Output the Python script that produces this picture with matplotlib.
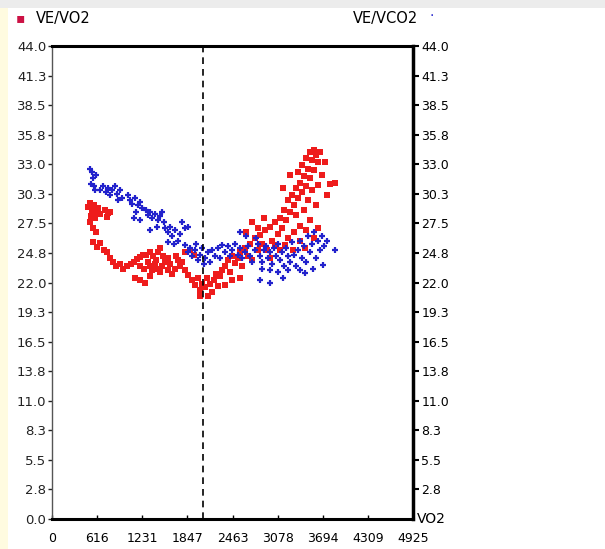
import matplotlib
matplotlib.use("Agg")
import matplotlib.pyplot as plt
from matplotlib.patches import Rectangle

# ---- data (VO2, ratio) ----
ve_vo2_x = [491, 518, 546, 573, 600, 627, 655, 532, 587, 723, 764, 791, 750, 518, 559, 600,
            559, 614, 655, 709, 750, 791, 832, 873, 928, 968, 1023, 1078, 1118, 1159, 1200, 1241,
            1282, 1337, 1378, 1419, 1446, 1473, 1200, 1255, 1309, 1337, 1364, 1405, 1446, 1473,
            1500, 1541, 1582, 1610, 1637, 1678, 1719, 1746, 1691, 1582, 1514, 1132, 1200, 1268,
            1337, 1773, 1814, 1855, 1882, 1910, 1951, 1991, 2019, 2046, 2087, 2114, 2155, 2182,
            2210, 2237, 2264, 2292, 2319, 2019, 2128, 1814, 1937, 2360, 2401, 2428, 2455, 2496,
            2537, 2564, 2592, 2633, 2673, 2701, 2728, 2769, 2810, 2837, 2864, 2905, 2933, 2974,
            3001, 3042, 3083, 3110, 3137, 2646, 2728, 2810, 2892, 2564, 2455, 2360, 3164, 3192,
            3219, 3246, 3274, 3301, 3328, 3355, 3383, 3410, 3437, 3465, 3492, 3519, 3546, 3574,
            3601, 3628, 3656, 3465, 3519, 3574, 3410, 3355, 3328, 3383, 3437, 3492, 3546, 3601,
            3628, 3683, 3724, 3751, 3792, 3151, 3246, 3301, 3219, 3178, 3383, 3465, 3519, 3574,
            3628, 3110, 3042, 3287, 3451, 2974, 3860]
ve_vo2_y = [29.0, 29.4, 28.7, 29.2, 28.6, 28.9, 28.4, 28.2, 28.0, 28.7, 28.5, 28.6, 28.1, 27.6, 27.1, 26.7,
            25.8, 25.3, 25.7, 25.0, 24.8, 24.3, 23.9, 23.5, 23.7, 23.3, 23.5, 23.7, 23.9, 24.2, 24.4, 24.6,
            24.6, 24.8, 24.5, 24.1, 24.8, 25.2, 23.5, 23.3, 23.9, 23.5, 23.2, 23.7, 23.3, 23.0,
            23.5, 23.9, 23.2, 23.7, 22.8, 23.3, 24.1, 23.5, 24.5, 24.3, 24.5, 22.4, 22.2, 22.0,
            22.6, 23.9, 23.2, 22.7, 25.0, 22.2, 21.8, 22.4, 21.3, 21.9, 21.6, 22.4, 21.9, 21.1,
            22.2, 22.8, 21.7, 22.6, 23.2, 20.7, 20.7, 24.8, 24.6, 23.5, 24.1, 23.0, 24.5, 23.8,
            24.3, 24.8, 23.5, 25.2, 24.5, 25.6, 24.1, 26.1, 25.0, 26.4, 25.6, 26.9, 25.0, 27.2,
            25.9, 27.6, 26.5, 28.0, 27.1, 26.7, 27.6, 27.1, 28.0, 22.4, 22.2, 21.8, 28.7, 27.8,
            29.7, 28.6, 30.1, 29.2, 30.8, 29.9, 31.3, 30.4, 31.9, 31.0, 32.6, 31.7, 33.4, 32.5,
            33.9, 33.2, 34.1, 33.6, 34.1, 34.3, 32.9, 32.3, 28.3, 27.3, 28.7, 29.7, 30.6, 29.2,
            31.1, 32.0, 33.2, 30.1, 31.2, 30.8, 32.0, 26.7, 26.1, 25.5, 25.9, 26.9, 27.8, 26.1,
            27.1, 25.0, 25.5, 25.0, 25.2, 24.3, 31.3]

ve_vco2_x = [518, 546, 559, 532, 573, 600, 587, 655, 696, 737, 764, 791, 818, 859, 887, 928,
             955, 900, 1037, 1064, 1091, 1132, 1173, 1200, 1228, 1146, 1118, 1200, 1282, 1309, 1337,
             1364, 1405, 1446, 1473, 1500, 1528, 1432, 1337, 1541, 1582, 1610, 1637, 1678, 1719,
             1746, 1773, 1814, 1855, 1664, 1582, 1814, 1855, 1882, 1910, 1951, 1991, 2019, 2046,
             2087, 2128, 2155, 2182, 2223, 2264, 2292, 2319, 1964, 2073, 2360, 2401, 2428, 2455,
             2496, 2537, 2564, 2592, 2633, 2673, 2701, 2728, 2769, 2810, 2837, 2864, 2892, 2919,
             2946, 2974, 3001, 3028, 3055, 3083, 3110, 3137, 3164, 3192, 3219, 3246, 3274, 3301,
             3328, 3355, 3383, 3410, 3437, 3465, 3492, 3519, 3546, 3574, 3601, 3628, 3656, 3683,
             3710, 2864, 2974, 3083, 3219, 3383, 3451, 3560, 3696, 3751, 3860, 2837, 2974, 3151,
             2564, 2646, 2783]
ve_vco2_y = [32.6, 32.3, 31.7, 31.2, 31.0, 32.0, 30.6, 30.6, 31.0, 30.4, 30.8, 30.1, 30.6, 31.0, 30.2, 30.6,
             29.9, 29.7, 30.1, 29.7, 29.3, 29.9, 29.2, 29.5, 28.9, 28.6, 28.0, 27.8, 28.7, 28.3, 28.6,
             28.0, 28.4, 27.8, 28.2, 28.6, 27.6, 27.2, 26.9, 27.1, 26.7, 27.2, 26.3, 26.9, 25.9,
             26.5, 27.6, 27.1, 27.2, 25.6, 25.8, 25.5, 24.8, 25.2, 24.5, 25.0, 24.1, 24.6, 25.2,
             24.3, 24.8, 23.9, 25.0, 24.5, 25.2, 24.3, 25.5, 25.6, 23.7, 24.8, 25.4, 24.5, 25.0,
             25.6, 24.6, 25.2, 24.3, 24.8, 25.4, 24.5, 23.9, 25.0, 25.6, 24.5, 23.9, 25.0, 25.4,
             24.3, 24.8, 23.7, 25.2, 24.5, 25.6, 24.1, 24.8, 23.5, 25.2, 24.5, 23.9, 25.8, 24.6,
             23.5, 25.0, 25.9, 24.3, 25.4, 23.9, 26.3, 24.8, 25.6, 26.7, 24.3, 25.9, 25.0, 26.3,
             25.4, 23.3, 23.2, 23.0, 23.2, 23.2, 22.9, 23.3, 23.6, 25.9, 25.0, 22.2, 22.0, 22.4,
             26.7, 26.3, 26.1]

x_ticks = [0, 616, 1231, 1847, 2463, 3078, 3694, 4309, 4925]
y_ticks = [0.0, 2.75, 5.5, 8.25, 11.0, 13.75, 16.5, 19.25, 22.0, 24.75, 27.5, 30.25, 33.0, 35.75, 38.5, 41.25, 44.0]
y_labels = ["0.0", "2.8", "5.5", "8.3", "11.0", "13.8", "16.5", "19.3", "22.0", "24.8",
            "27.5", "30.3", "33.0", "35.8", "38.5", "41.3", "44.0"]
threshold_vo2 = 2060

RED = "#ee1c1c"
BLUE = "#2222cc"

fig = plt.figure(figsize=(6.05, 5.49), dpi=100)
fig.patch.set_facecolor("white")
# border strips
fig.patches.append(Rectangle((0, 0), 8 / 605, 1, transform=fig.transFigure,
                             facecolor="#fffbe0", edgecolor="none", zorder=0))
fig.patches.append(Rectangle((0, 1 - 8 / 549), 1, 8 / 549, transform=fig.transFigure,
                             facecolor="#ececec", edgecolor="none", zorder=0))

ax = fig.add_axes([52 / 605, 30 / 549, 361 / 605, 473 / 549])
ax.set_xlim(0, 4925)
ax.set_ylim(0, 44)

ax.scatter(ve_vo2_x, ve_vo2_y, marker="s", s=16, color=RED, linewidths=0, zorder=2)
ax.scatter(ve_vco2_x, ve_vco2_y, marker="+", s=22, color=BLUE, linewidths=1.6, zorder=3)

ax.axvline(threshold_vo2, color="black", lw=1.2, ls=(0, (4, 3)), zorder=4)

lfont = dict(family="DejaVu Sans", size=9.5)
rfont = dict(family="DejaVu Sans", size=9)
bfont = dict(family="DejaVu Sans", size=9)
ax.set_xticks(x_ticks)
ax.set_xticklabels([str(v) for v in x_ticks], **bfont)
ax.set_yticks(y_ticks)
ax.set_yticklabels(y_labels, **lfont)
ax.tick_params(axis="x", direction="in", length=3, width=1, pad=9)
ax.tick_params(axis="y", direction="out", length=3, width=1, pad=1, colors="#222222")

ax.spines["left"].set_linewidth(1.0)
ax.spines["left"].set_color("#555555")
for s in ("top", "bottom"):
    ax.spines[s].set_linewidth(2.2)
    ax.spines[s].set_color("black")
ax.spines["right"].set_visible(False)

ax2 = ax.twinx()
ax2.set_ylim(0, 44)
ax2.set_yticks(y_ticks[1:])
ax2.set_yticklabels(y_labels[1:], **rfont)
ax2.tick_params(axis="y", direction="out", length=4, width=1.5, pad=2)
ax2.spines["right"].set_linewidth(2.5)
for s in ("top", "bottom", "left"):
    ax2.spines[s].set_visible(False)

# labels / legend
fig.text(417 / 605, 1 - 519 / 549, "VO2", ha="left", va="center", family="DejaVu Sans", size=10)
fig.text(20 / 605, 1 - 18 / 549, "\u25aa", color="#cc1144", ha="center", va="center", fontsize=10)
fig.text(36 / 605, 1 - 18 / 549, "VE/VO2", ha="left", va="center", family="DejaVu Sans", size=10.5)
fig.text(418 / 605, 1 - 18 / 549, "VE/VCO2", ha="right", va="center", family="DejaVu Sans", size=10.5)
fig.text(432 / 605, 1 - 16 / 549, "\u00b7", color=BLUE, ha="center", va="center", fontsize=10)

fig.savefig("out.png", dpi=100)
